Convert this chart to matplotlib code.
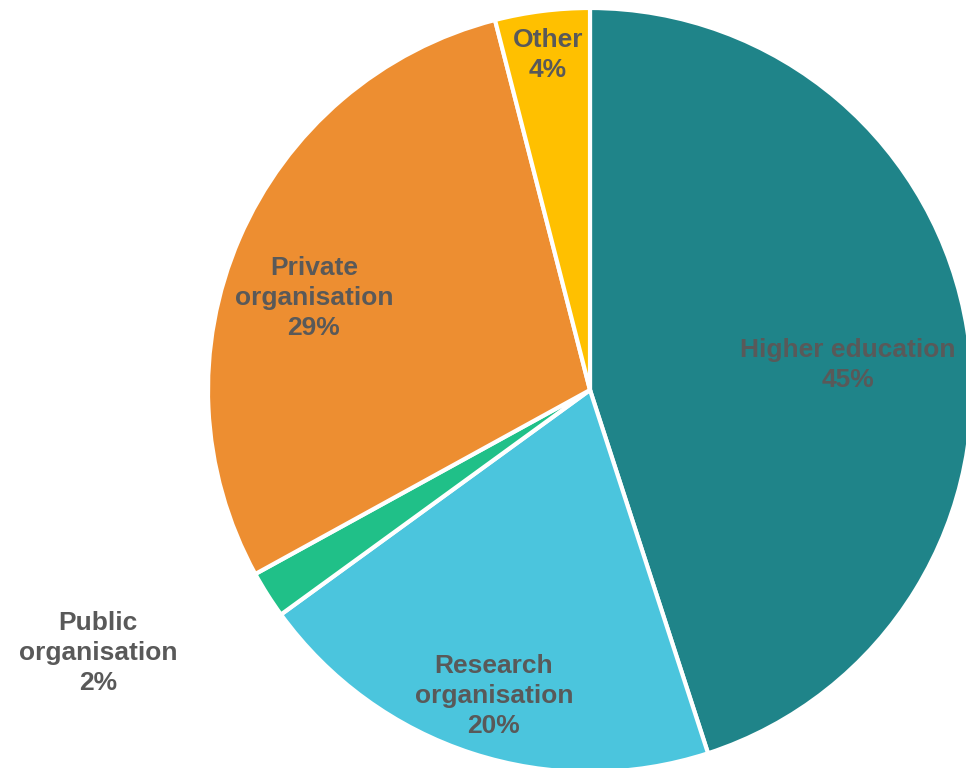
import matplotlib

matplotlib.use("Agg")
import matplotlib.pyplot as plt

# Share of participants by organisation type
categories = ["Higher education", "Research\norganisation", "Public\norganisation",
              "Private\norganisation", "Other"]
shares = [45, 20, 2, 29, 4]
colors = ["#1F8489", "#4BC5DD", "#20C088", "#ED8E31", "#FFC000"]

# label anchor points in pixel space (x, y from top)
label_xy = [(848, 365), (494, 696), (98, 653), (314, 298), (548, 55)]

W, H = 966, 768
cx, cy, r = 590, 390, 382

plt.rcParams["font.family"] = ["Liberation Sans", "DejaVu Sans"]

fig = plt.figure(figsize=(W / 100, H / 100), dpi=100)
ax = fig.add_axes([0, 0, 1, 1])

ax.pie(
    shares,
    colors=colors,
    startangle=90,
    counterclock=False,
    center=(cx, H - cy),
    radius=r,
    wedgeprops=dict(edgecolor="white", linewidth=3),
    frame=True,
)
ax.set_xlim(0, W)
ax.set_ylim(0, H)
ax.set_aspect("equal")
ax.axis("off")

for name, val, (x, y) in zip(categories, shares, label_xy):
    ax.text(x, H - y, f"{name}\n{val}%", ha="center", va="center",
            fontsize=19, fontweight="bold", color="#595959", linespacing=1.32)

fig.savefig("out.png", dpi=100)
